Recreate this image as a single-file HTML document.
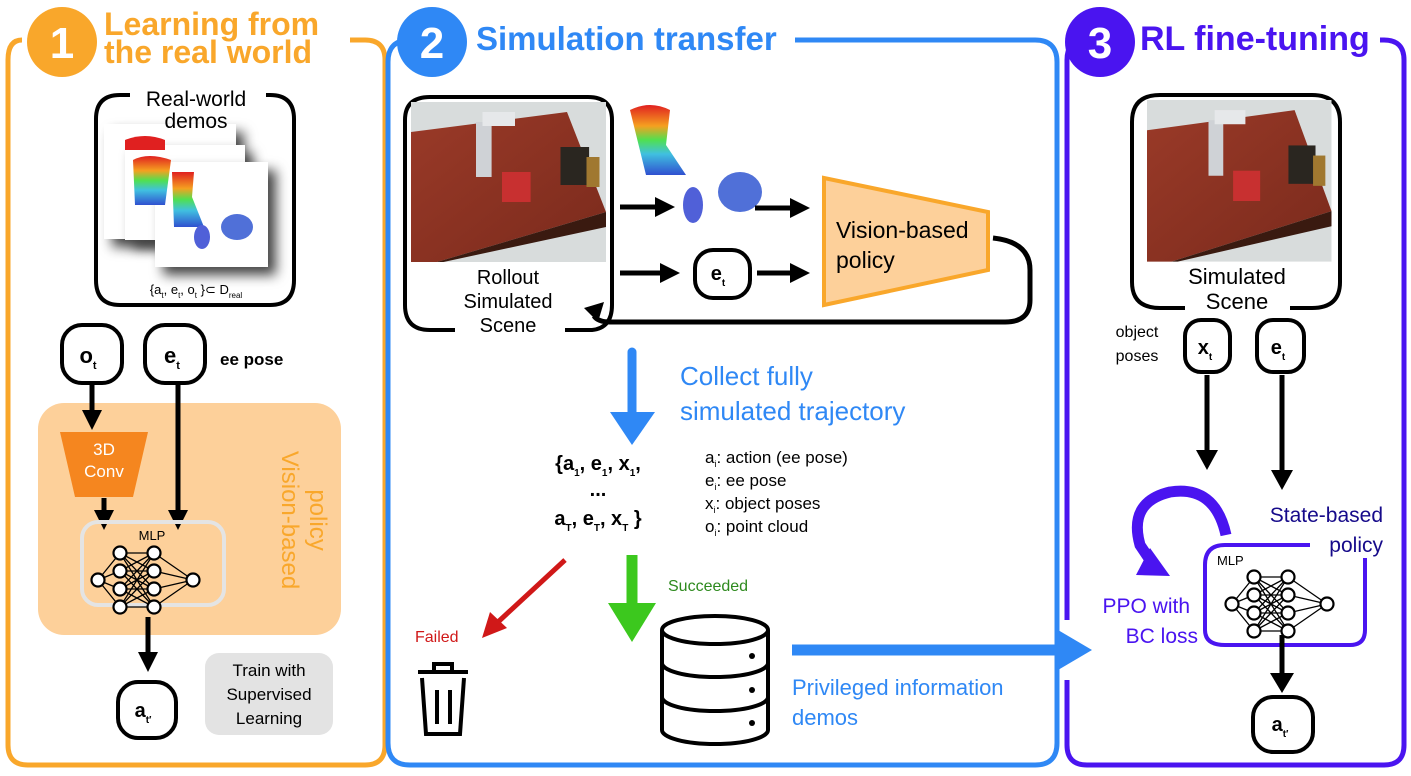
<!DOCTYPE html>
<html><head><meta charset="utf-8"><style>
html,body{margin:0;padding:0;background:#fff}
svg{display:block}
text{font-family:"Liberation Sans",sans-serif}
</style></head><body>
<svg width="1411" height="776" viewBox="0 0 1411 776" xmlns="http://www.w3.org/2000/svg">
<defs>
<marker id="ak" markerWidth="4" markerHeight="4" refX="2" refY="2" orient="auto" markerUnits="strokeWidth"><path d="M0,0 L4,2 L0,4 Z" fill="#000"/></marker>
<linearGradient id="tbl" x1="0" y1="0" x2="1" y2="1"><stop offset="0" stop-color="#9a3a28"/><stop offset="1" stop-color="#7a2a1c"/></linearGradient>
<linearGradient id="pc" x1="0" y1="0" x2="0" y2="1"><stop offset="0" stop-color="#e02020"/><stop offset="0.3" stop-color="#f5a020"/><stop offset="0.5" stop-color="#50e050"/><stop offset="0.7" stop-color="#40c0e0"/><stop offset="1" stop-color="#3050d0"/></linearGradient>
<g id="nn" stroke="#000" stroke-width="1.3" fill="#fff">
<path d="M0,0 L22,-27 M0,0 L22,-9 M0,0 L22,9 M0,0 L22,27 M22,-27 L56,-27 M22,-27 L56,-9 M22,-27 L56,9 M22,-27 L56,27 M22,-9 L56,-27 M22,-9 L56,-9 M22,-9 L56,9 M22,-9 L56,27 M22,9 L56,-27 M22,9 L56,-9 M22,9 L56,9 M22,9 L56,27 M22,27 L56,-27 M22,27 L56,-9 M22,27 L56,9 M22,27 L56,27 M56,-27 L95,0 M56,-9 L95,0 M56,9 L95,0 M56,27 L95,0" fill="none"/>
<circle cx="0" cy="0" r="6.5" stroke-width="2.2"/><circle cx="22" cy="-27" r="6.5" stroke-width="2.2"/><circle cx="22" cy="-9" r="6.5" stroke-width="2.2"/><circle cx="22" cy="9" r="6.5" stroke-width="2.2"/><circle cx="22" cy="27" r="6.5" stroke-width="2.2"/>
<circle cx="56" cy="-27" r="6.5" stroke-width="2.2"/><circle cx="56" cy="-9" r="6.5" stroke-width="2.2"/><circle cx="56" cy="9" r="6.5" stroke-width="2.2"/><circle cx="56" cy="27" r="6.5" stroke-width="2.2"/><circle cx="95" cy="0" r="6.5" stroke-width="2.2"/>
</g>
<g id="scene">
<rect x="0" y="0" width="150" height="160" fill="#d8dcdc"/>
<polygon points="0,30 120,10 150,110 20,160 0,160" fill="url(#tbl)"/>
<polygon points="20,160 150,110 150,125 25,160" fill="#3a1a10"/>
<rect x="50" y="20" width="12" height="55" fill="#cfd2d6"/><rect x="55" y="10" width="25" height="14" fill="#e6e8ea"/>
<rect x="70" y="70" width="22" height="30" fill="#c83030"/>
<rect x="115" y="45" width="22" height="38" fill="#2a2620"/><rect x="135" y="55" width="10" height="30" fill="#a07830"/>
</g>
</defs>

<!-- Panel 1 -->
<path d="M22,40 Q8,40 8,60 L8,745 Q8,765 28,765 L365,765 Q385,765 385,745 L385,60 Q385,40 365,40 L350,40" fill="none" stroke="#F9A72B" stroke-width="5"/>
<circle cx="62" cy="42" r="35" fill="#F9A72B"/>
<text x="62" y="58" font-size="44" font-weight="bold" fill="#fff" text-anchor="middle">1</text>
<text x="104" y="35" font-size="32" font-weight="bold" fill="#F9A72B">Learning from</text>
<text x="104" y="63" font-size="32" font-weight="bold" fill="#F9A72B">the real world</text>

<path d="M130,95 L120,95 Q96,95 96,119 L96,280 Q96,305 120,305 L270,305 Q294,305 294,280 L294,119 Q294,95 270,95 L266,95" fill="none" stroke="#000" stroke-width="4"/>
<rect x="104" y="124" width="132" height="115" fill="#fff" style="filter:drop-shadow(8px 8px 6px #444)"/>
<rect x="125" y="145" width="120" height="95" fill="#fff" style="filter:drop-shadow(8px 8px 6px #444)"/>
<rect x="155" y="162" width="113" height="105" fill="#fff" style="filter:drop-shadow(8px 8px 6px #444)"/>
<path d="M125,140 q20,-8 40,0 v10 h-40z" fill="#e02020"/>
<path d="M133,160 q15,-8 38,0 l-6,45 h-30z" fill="url(#pc)"/>
<path d="M172,172 h22 l-2,25 l12,30 h-30z" fill="url(#pc)"/>
<ellipse cx="202" cy="237" rx="8" ry="12" fill="#5060d8"/>
<ellipse cx="237" cy="227" rx="16" ry="13" fill="#5070d8"/>
<text x="196" y="106" font-size="21" text-anchor="middle">Real-world</text>
<text x="196" y="128" font-size="21" text-anchor="middle">demos</text>
<text x="196" y="294" font-size="13" text-anchor="middle">{a<tspan font-size="8" dy="4">t</tspan><tspan dy="-4">, e</tspan><tspan font-size="8" dy="4">t</tspan><tspan dy="-4">, o</tspan><tspan font-size="8" dy="4">t</tspan><tspan dy="-4"> }⊂ D</tspan><tspan font-size="8" dy="4">real</tspan></text>

<rect x="62" y="325" width="60" height="58" rx="20" fill="#fff" stroke="#000" stroke-width="4"/>
<text x="88" y="363" font-size="22" font-weight="bold" text-anchor="middle">o<tspan font-size="11" dy="6">t</tspan></text>
<rect x="145" y="325" width="60" height="58" rx="20" fill="#fff" stroke="#000" stroke-width="4"/>
<text x="172" y="363" font-size="22" font-weight="bold" text-anchor="middle">e<tspan font-size="11" dy="6">t</tspan></text>
<text x="220" y="365" font-size="17" font-weight="bold">ee pose</text>

<rect x="38" y="403" width="303" height="232" rx="26" fill="#FDD09A"/>
<line x1="92" y1="385" x2="92" y2="420" stroke="#000" stroke-width="5" marker-end="url(#ak)"/>
<polygon points="60,432 148,432 133,497 75,497" fill="#F5861F"/>
<text x="104" y="455" font-size="17" fill="#fff" text-anchor="middle">3D</text>
<text x="104" y="477" font-size="17" fill="#fff" text-anchor="middle">Conv</text>
<line x1="104" y1="498" x2="104" y2="520" stroke="#000" stroke-width="5" marker-end="url(#ak)"/>
<line x1="178" y1="385" x2="178" y2="520" stroke="#000" stroke-width="5" marker-end="url(#ak)"/>
<rect x="82" y="522" width="142" height="83" rx="16" fill="none" stroke="#e4e4e4" stroke-width="4"/>
<text x="152" y="540" font-size="13" text-anchor="middle">MLP</text>
<use href="#nn" x="98" y="580"/>
<text transform="translate(282,520) rotate(90)" font-size="24" fill="#F9A72B" text-anchor="middle">Vision-based</text>
<text transform="translate(310,520) rotate(90)" font-size="24" fill="#F9A72B" text-anchor="middle">policy</text>
<line x1="148" y1="617" x2="148" y2="662" stroke="#000" stroke-width="5" marker-end="url(#ak)"/>
<rect x="118" y="682" width="58" height="56" rx="20" fill="#fff" stroke="#000" stroke-width="4"/>
<text x="143" y="717" font-size="20" font-weight="bold" text-anchor="middle">a<tspan font-size="10" dy="6">t′</tspan></text>
<rect x="205" y="653" width="128" height="82" rx="14" fill="#e3e3e3"/>
<text x="269" y="676" font-size="17" text-anchor="middle">Train with</text>
<text x="269" y="700" font-size="17" text-anchor="middle">Supervised</text>
<text x="269" y="724" font-size="17" text-anchor="middle">Learning</text>

<!-- Panel 2 -->
<path d="M410,40 Q388,40 388,62 L388,743 Q388,765 410,765 L1035,765 Q1057,765 1057,743 L1057,62 Q1057,40 1035,40 L795,40" fill="none" stroke="#2F88F5" stroke-width="5"/>
<circle cx="432" cy="42" r="35" fill="#2F88F5"/>
<text x="432" y="58" font-size="44" font-weight="bold" fill="#fff" text-anchor="middle">2</text>
<text x="476" y="50" font-size="33" font-weight="bold" fill="#2F88F5">Simulation transfer</text>

<path d="M455,330 L430,330 Q405,330 405,305 L405,120 Q405,97 430,97 L588,97 Q612,97 612,120 L612,305 Q612,328 592,330 L565,330" fill="none" stroke="#000" stroke-width="4"/>
<use href="#scene" transform="translate(411,102) scale(1.3,1)"/>
<text x="508" y="284" font-size="20" text-anchor="middle">Rollout</text>
<text x="508" y="308" font-size="20" text-anchor="middle">Simulated</text>
<text x="508" y="332" font-size="20" text-anchor="middle">Scene</text>
<path d="M630,110 q20,-10 40,0 l-4,35 l20,30 h-40 z" fill="url(#pc)"/>
<ellipse cx="693" cy="205" rx="10" ry="18" fill="#5060d8"/>
<ellipse cx="740" cy="192" rx="22" ry="20" fill="#5070d8"/>
<line x1="620" y1="207" x2="665" y2="207" stroke="#000" stroke-width="5" marker-end="url(#ak)"/>
<line x1="755" y1="208" x2="800" y2="208" stroke="#000" stroke-width="5" marker-end="url(#ak)"/>
<line x1="620" y1="273" x2="670" y2="273" stroke="#000" stroke-width="5" marker-end="url(#ak)"/>
<rect x="695" y="250" width="55" height="48" rx="18" fill="#fff" stroke="#000" stroke-width="4"/>
<text x="718" y="280" font-size="20" font-weight="bold" text-anchor="middle">e<tspan font-size="10" dy="6">t</tspan></text>
<line x1="757" y1="273" x2="800" y2="273" stroke="#000" stroke-width="5" marker-end="url(#ak)"/>
<polygon points="824,178 988,212 988,270 824,305" fill="#FDD09A" stroke="#F9A72B" stroke-width="4"/>
<text x="836" y="238" font-size="23">Vision-based</text>
<text x="836" y="268" font-size="23">policy</text>
<path d="M993,238 Q1030,242 1030,270 L1030,300 Q1030,322 1005,322 L610,322 Q598,322 594,316" fill="none" stroke="#000" stroke-width="5"/>
<polygon points="584,308 604,302 598,322" fill="#000"/>

<line x1="632" y1="352" x2="632" y2="415" stroke="#2F88F5" stroke-width="9" stroke-linecap="round"/>
<polygon points="610,412 655,412 632,445" fill="#2F88F5"/>
<text x="680" y="385" font-size="26" fill="#2F88F5">Collect fully</text>
<text x="680" y="420" font-size="26" fill="#2F88F5">simulated trajectory</text>
<text x="598" y="470" font-size="20" font-weight="bold" text-anchor="middle">{a<tspan font-size="10" dy="6">1</tspan><tspan dy="-6">, e</tspan><tspan font-size="10" dy="6">1</tspan><tspan dy="-6">, x</tspan><tspan font-size="10" dy="6">1</tspan><tspan dy="-6">,</tspan></text>
<text x="598" y="496" font-size="20" font-weight="bold" text-anchor="middle">...</text>
<text x="598" y="525" font-size="20" font-weight="bold" text-anchor="middle">a<tspan font-size="10" dy="6">T</tspan><tspan dy="-6">, e</tspan><tspan font-size="10" dy="6">T</tspan><tspan dy="-6">, x</tspan><tspan font-size="10" dy="6">T</tspan><tspan dy="-6"> }</tspan></text>
<g font-size="17">
<text x="705" y="463">a<tspan font-size="9" dy="4">i</tspan><tspan dy="-4">: action (ee pose)</tspan></text>
<text x="705" y="486">e<tspan font-size="9" dy="4">i</tspan><tspan dy="-4">: ee pose</tspan></text>
<text x="705" y="509">x<tspan font-size="9" dy="4">i</tspan><tspan dy="-4">: object poses</tspan></text>
<text x="705" y="532">o<tspan font-size="9" dy="4">i</tspan><tspan dy="-4">: point cloud</tspan></text>
</g>
<line x1="565" y1="560" x2="498" y2="622" stroke="#D01818" stroke-width="5"/>
<polygon points="482,638 490,612 507,628" fill="#D01818"/>
<text x="415" y="642" font-size="16" fill="#D01818">Failed</text>
<g fill="none" stroke="#000" stroke-width="4">
<path d="M418,672 h50 M434,672 v-8 h18 v8"/>
<path d="M422,678 l4,56 h34 l4,-56"/>
<path d="M437,690 v34 M450,690 v34"/>
</g>
<line x1="632" y1="555" x2="632" y2="605" stroke="#3CC81E" stroke-width="11"/>
<polygon points="608,603 656,603 632,642" fill="#3CC81E"/>
<text x="668" y="591" font-size="16" fill="#2E8A1E">Succeeded</text>
<g stroke="#000" stroke-width="4" fill="#fff">
<path d="M662,630 v100 a53,14 0 0 0 106,0 v-100"/>
<ellipse cx="715" cy="630" rx="53" ry="14"/>
<path d="M662,663 a53,14 0 0 0 106,0 M662,697 a53,14 0 0 0 106,0" fill="none"/>
</g>
<circle cx="752" cy="656" r="3" fill="#000"/><circle cx="752" cy="690" r="3" fill="#000"/><circle cx="752" cy="723" r="3" fill="#000"/>
<line x1="792" y1="650" x2="1060" y2="650" stroke="#2F88F5" stroke-width="11"/>
<polygon points="1058,630 1092,650 1058,670" fill="#2F88F5"/>
<text x="792" y="695" font-size="22" fill="#2F88F5">Privileged information</text>
<text x="792" y="725" font-size="22" fill="#2F88F5">demos</text>

<!-- Panel 3 -->
<path d="M1085,40 Q1067,40 1067,60 L1067,620 M1067,680 L1067,745 Q1067,765 1087,765 L1384,765 Q1404,765 1404,745 L1404,60 Q1404,40 1384,40 L1380,40" fill="none" stroke="#4A14F0" stroke-width="5"/>
<circle cx="1100" cy="42" r="35" fill="#4A14F0"/>
<text x="1100" y="58" font-size="44" font-weight="bold" fill="#fff" text-anchor="middle">3</text>
<text x="1140" y="50" font-size="34" font-weight="bold" fill="#4A14F0">RL fine-tuning</text>

<path d="M1185,308 L1160,308 Q1132,308 1132,282 L1132,122 Q1132,95 1160,95 L1312,95 Q1340,95 1340,122 L1340,282 Q1340,308 1312,308 L1290,308" fill="none" stroke="#000" stroke-width="4"/>
<use href="#scene" transform="translate(1147,100) scale(1.23,1.01)"/>
<text x="1237" y="284" font-size="22" text-anchor="middle">Simulated</text>
<text x="1237" y="309" font-size="22" text-anchor="middle">Scene</text>
<text x="1137" y="337" font-size="16" text-anchor="middle">object</text>
<text x="1137" y="361" font-size="16" text-anchor="middle">poses</text>
<rect x="1185" y="320" width="45" height="52" rx="16" fill="#fff" stroke="#000" stroke-width="4"/>
<text x="1205" y="354" font-size="20" font-weight="bold" text-anchor="middle">x<tspan font-size="10" dy="6">t</tspan></text>
<rect x="1257" y="320" width="47" height="52" rx="16" fill="#fff" stroke="#000" stroke-width="4"/>
<text x="1278" y="354" font-size="20" font-weight="bold" text-anchor="middle">e<tspan font-size="10" dy="6">t</tspan></text>
<line x1="1207" y1="375" x2="1207" y2="450" stroke="#000" stroke-width="5"/>
<polygon points="1196,450 1218,450 1207,470" fill="#000"/>
<line x1="1282" y1="375" x2="1282" y2="470" stroke="#000" stroke-width="5"/>
<polygon points="1271,470 1293,470 1282,490" fill="#000"/>
<path d="M1226,535 Q1215,485 1170,492 Q1128,502 1140,545 L1150,560" fill="none" stroke="#4A14F0" stroke-width="11"/>
<polygon points="1136,575 1170,576 1150,548" fill="#4A14F0"/>
<path d="M1310,545 L1225,545 Q1205,545 1205,565 L1205,630 Q1205,645 1225,645 L1350,645 Q1365,645 1365,630 L1365,558" fill="none" stroke="#4A14F0" stroke-width="4"/>
<text x="1383" y="522" font-size="21" fill="#160a8a" text-anchor="end">State-based</text>
<text x="1383" y="552" font-size="21" fill="#160a8a" text-anchor="end">policy</text>
<text x="1217" y="565" font-size="13">MLP</text>
<use href="#nn" x="1232" y="604"/>
<text x="1190" y="613" font-size="21" fill="#4A14F0" text-anchor="end">PPO with</text>
<text x="1198" y="643" font-size="21" fill="#4A14F0" text-anchor="end">BC loss</text>
<line x1="1282" y1="635" x2="1282" y2="675" stroke="#000" stroke-width="5"/>
<polygon points="1270,673 1294,673 1282,693" fill="#000"/>
<rect x="1253" y="697" width="60" height="55" rx="20" fill="#fff" stroke="#000" stroke-width="4"/>
<text x="1280" y="731" font-size="20" font-weight="bold" text-anchor="middle">a<tspan font-size="10" dy="6">t′</tspan></text>
</svg>
</body></html>
